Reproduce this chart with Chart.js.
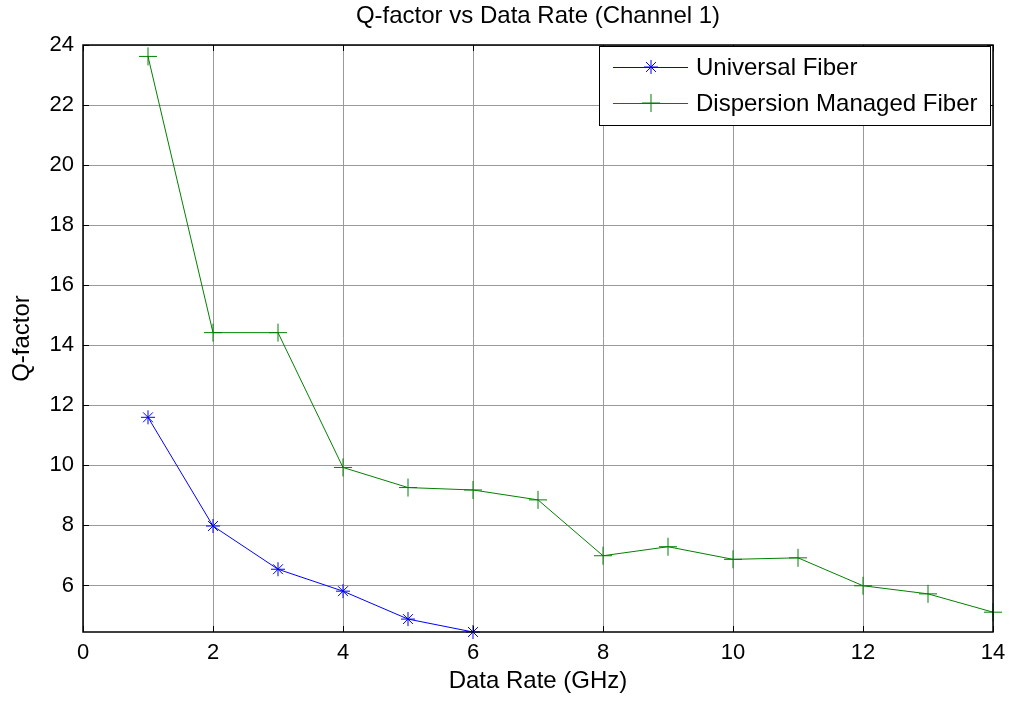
<!DOCTYPE html>
<html>
<head>
<meta charset="utf-8">
<script src="https://cdn.jsdelivr.net/npm/chart.js@4/dist/chart.umd.min.js"></script>
<style>
  body { margin: 0; background: #fff; }
  #wrap { width: 1010px; height: 703px; }
</style>
</head>
<body>
<div id="wrap"><canvas id="qChart" width="1010" height="703"></canvas></div>
<script>
// Data
const universalRates = [1, 2, 3, 4, 5, 6];
const universalQ = [11.6, 7.98, 6.54, 5.81, 4.88, 4.45];
const dmfRates = [1, 2, 3, 4, 5, 6, 7, 8, 9, 10, 11, 12, 13, 14];
const dmfQ = [23.62, 14.42, 14.42, 9.93, 9.26, 9.18, 8.85, 6.99, 7.29, 6.87, 6.92, 5.99, 5.72, 5.11];
const xTicks = [0, 2, 4, 6, 8, 10, 12, 14];
const yTicks = [6, 8, 10, 12, 14, 16, 18, 20, 22, 24];

const FONT = 'Arial, "Liberation Sans", sans-serif';

const toPoints = (xs, ys) => xs.map((x, i) => ({ x: x, y: ys[i] }));

// Box, inward ticks, titles and the legend, MATLAB style
const matlabFrame = {
    id: 'matlabFrame',
    afterDraw(chart) {
        const ctx = chart.ctx;
        const area = chart.chartArea;
        const xs = chart.scales.x;
        const ys = chart.scales.y;

        ctx.save();
        ctx.strokeStyle = '#000';
        ctx.lineWidth = 1;
        ctx.beginPath();
        xTicks.forEach(v => {
            const px = Math.round(xs.getPixelForValue(v)) + 0.5;
            ctx.moveTo(px, area.bottom); ctx.lineTo(px, area.bottom - 6);
            ctx.moveTo(px, area.top); ctx.lineTo(px, area.top + 6);
        });
        yTicks.forEach(v => {
            const py = Math.round(ys.getPixelForValue(v)) + 0.5;
            ctx.moveTo(area.left, py); ctx.lineTo(area.left + 6, py);
            ctx.moveTo(area.right, py); ctx.lineTo(area.right - 6, py);
        });
        ctx.stroke();
        ctx.lineWidth = 1.5;
        ctx.strokeRect(area.left, area.top, area.right - area.left, area.bottom - area.top);

        // titles
        ctx.fillStyle = '#000';
        ctx.textAlign = 'center';
        ctx.textBaseline = 'middle';
        ctx.font = '24px ' + FONT;
        ctx.fillText('Q-factor vs Data Rate (Channel 1)', (area.left + area.right) / 2, 16);
        ctx.fillText('Data Rate (GHz)', (area.left + area.right) / 2, 681);
        ctx.save();
        ctx.translate(22, (area.top + area.bottom) / 2);
        ctx.rotate(-Math.PI / 2);
        ctx.fillText('Q-factor', 0, 0);
        ctx.restore();

        // legend box
        const lx = 599, ly = 46, lw = 391, lh = 79;
        ctx.fillStyle = '#fff';
        ctx.fillRect(lx, ly, lw, lh);
        ctx.lineWidth = 1;
        ctx.strokeStyle = '#000';
        ctx.strokeRect(lx + 0.5, ly + 0.5, lw, lh);
        const rows = [67, 103];
        chart.data.datasets.forEach((ds, i) => {
            const y = rows[i];
            ctx.strokeStyle = ds.borderColor;
            ctx.lineWidth = 1;
            ctx.beginPath();
            ctx.moveTo(613, y + 0.5);
            ctx.lineTo(688, y + 0.5);
            ctx.stroke();
            Chart.helpers.drawPoint(ctx, {
                pointStyle: ds.pointStyle,
                radius: ds.pointRadius,
                borderWidth: 1
            }, 651, y);
            ctx.fillStyle = '#000';
            ctx.textAlign = 'left';
            ctx.textBaseline = 'middle';
            ctx.font = '24px ' + FONT;
            ctx.fillText(ds.label, 696, y + 1);
        });
        ctx.restore();
    }
};

const qChart = new Chart(document.getElementById('qChart'), {
    type: 'line',
    data: {
        datasets: [
            {
                label: 'Universal Fiber',
                data: toPoints(universalRates, universalQ),
                borderColor: '#0000ff',
                backgroundColor: '#0000ff',
                borderWidth: 1,
                pointStyle: 'star',
                pointRadius: 7,
                pointBorderWidth: 1,
                tension: 0,
                clip: false
            },
            {
                label: 'Dispersion Managed Fiber',
                data: toPoints(dmfRates, dmfQ),
                borderColor: '#008000',
                backgroundColor: '#008000',
                borderWidth: 1,
                pointStyle: 'cross',
                pointRadius: 9,
                pointBorderWidth: 1,
                tension: 0,
                clip: false
            }
        ]
    },
    options: {
        responsive: false,
        animation: false,
        layout: { padding: { top: 45, right: 17, left: 0, bottom: 0 } },
        plugins: {
            legend: { display: false },
            title: { display: false },
            tooltip: { enabled: false }
        },
        scales: {
            x: {
                type: 'linear',
                min: 0,
                max: 14,
                afterBuildTicks: scale => { scale.ticks = xTicks.map(v => ({ value: v })); },
                afterFit: scale => {
                    scale.height = 71;
                    scale.paddingLeft = 0;
                    scale.paddingRight = 0;
                },
                grid: { color: '#9a9a9a', drawTicks: false },
                border: { display: false },
                ticks: { color: '#000', font: { family: FONT, size: 22 }, padding: 8, maxRotation: 0 }
            },
            y: {
                type: 'linear',
                min: 4.45,
                max: 24,
                afterBuildTicks: scale => { scale.ticks = yTicks.map(v => ({ value: v })); },
                afterFit: scale => {
                    scale.width = 83;
                    scale.paddingTop = 0;
                    scale.paddingBottom = 0;
                },
                grid: { color: '#9a9a9a', drawTicks: false },
                border: { display: false },
                ticks: { color: '#000', font: { family: FONT, size: 22 }, padding: 9 }
            }
        }
    },
    plugins: [matlabFrame]
});
</script>
</body>
</html>
